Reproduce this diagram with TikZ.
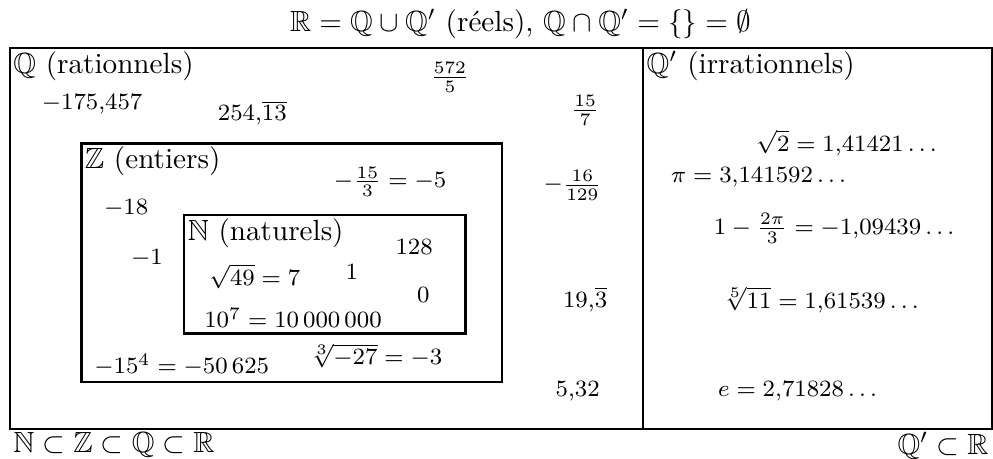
\documentclass[tikz,border=0pt]{standalone}
\usepackage{amsmath,amssymb}
\begin{document}
\begin{tikzpicture}[font=\normalsize]

\tikzstyle{setbox} = [draw, thick]
\tikzstyle{setname} = [anchor=north west, inner sep=1pt]
\tikzstyle{elem} = [font=\footnotesize, inner sep=1pt]

\useasboundingbox (0, 0) rectangle (11.964, 5.530);

% --- ensembles
\draw[setbox] (0.12, 0.36) rectangle (11.95, 4.95);
\draw[semithick] (7.75, 0.36) -- (7.75, 4.95);
\draw[setbox] (0.98, 0.93) rectangle (6.05, 3.80);
\draw[setbox] (2.22, 1.51) rectangle (5.61, 2.94);

\node (titre) at (6.27, 5.24) {$\mathbb{R}=\mathbb{Q}\cup\mathbb{Q}'$ (réels), $\mathbb{Q}\cap\mathbb{Q}'=\{\}=\emptyset$};
\node[setname] (Q) at (0.12, 4.95) {$\mathbb{Q}$ (rationnels)};
\node[setname] (Qp) at (7.75, 4.95) {$\mathbb{Q}'$ (irrationnels)};
\node[setname] (Z) at (0.98, 3.80) {$\mathbb{Z}$ (entiers)};
\node[setname] (N) at (2.22, 2.94) {$\mathbb{N}$ (naturels)};
\node[setname] (inclQ) at (0.12, 0.36) {$\mathbb{N}\subset\mathbb{Z}\subset\mathbb{Q}\subset\mathbb{R}$};
\node[setname, anchor=north east] (inclQp) at (11.95, 0.36) {$\mathbb{Q}'\subset\mathbb{R}$};

% --- rationnels
\node[elem] (q1) at (1.11, 4.28) {$-175{,}457$};
\node[elem] (q2) at (3.04, 4.17) {$254{,}\overline{13}$};
\node[elem] (q3) at (5.42, 4.60) {$\frac{572}{5}$};
\node[elem] (q4) at (7.05, 4.20) {$\frac{15}{7}$};
\node[elem] (q5) at (6.90, 3.30) {$-\frac{16}{129}$};
\node[elem] (q6) at (7.05, 1.92) {$19{,}\overline{3}$};
\node[elem] (q7) at (6.96, 0.82) {$5{,}32$};

% --- entiers
\node[elem] (z1) at (4.70, 3.34) {$-\frac{15}{3}=-5$};
\node[elem] (z2) at (1.52, 3.02) {$-18$};
\node[elem] (z3) at (1.77, 2.42) {$-1$};
\node[elem] (z4) at (2.19, 1.13) {$-15^4=-50\,625$};
\node[elem] (z5) at (4.53, 1.24) {$\sqrt[3]{-27}=-3$};

% --- naturels
\node[elem] (n1) at (4.99, 2.55) {$128$};
\node[elem] (n2) at (3.07, 2.20) {$\sqrt{49}=7$};
\node[elem] (n3) at (4.24, 2.25) {$1$};
\node[elem] (n4) at (5.10, 1.98) {$0$};
\node[elem] (n5) at (3.53, 1.70) {$10^7=10\,000\,000$};

% --- irrationnels
\node[elem] (i1) at (10.20, 3.81) {$\sqrt{2}=1{,}41421\ldots$};
\node[elem] (i2) at (9.14, 3.40) {$\pi=3{,}141592\ldots$};
\node[elem] (i3) at (10.05, 2.78) {$1-\frac{2\pi}{3}=-1{,}09439\ldots$};
\node[elem] (i4) at (9.89, 1.92) {$\sqrt[5]{11}=1{,}61539\ldots$};
\node[elem] (i5) at (9.61, 0.82) {$e=2{,}71828\ldots$};

\end{tikzpicture}
\end{document}
